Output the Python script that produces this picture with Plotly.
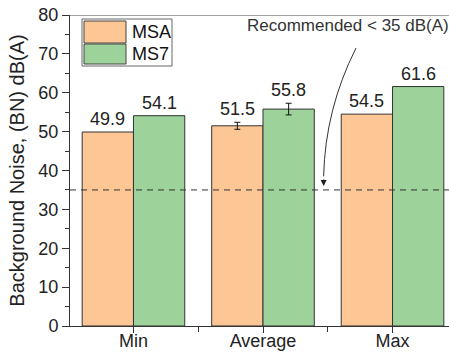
import plotly.graph_objects as go

# Background noise levels per statistic, two measurement series
categories = ["Min", "Average", "Max"]
msa_values = [49.9, 51.5, 54.5]
ms7_values = [54.1, 55.8, 61.6]
msa_errors = [None, 0.9, None]
ms7_errors = [None, 1.5, None]
series_names = ["MSA", "MS7"]
threshold = 35
y_ticks = [0, 10, 20, 30, 40, 50, 60, 70, 80]

ORANGE = "#FCC795"
GREEN = "#9DD29A"
FONT = "Liberation Sans, Arial, sans-serif"
TXT = "#222222"

W, H = 449, 353
L, R, T, B = 70, 0, 15, 27
BAR_W = 0.396

x_pos = list(range(len(categories)))

fig = go.Figure()
for name, vals, col in [
    (series_names[0], msa_values, ORANGE),
    (series_names[1], ms7_values, GREEN),
]:
    fig.add_trace(go.Bar(
        x=x_pos, y=vals, name=name, width=BAR_W,
        marker=dict(color=col, line=dict(color="#333333", width=1)),
        showlegend=False,
    ))

# error bars only where a spread was measured, plus value labels
for vals, errs, off in [(msa_values, msa_errors, -BAR_W / 2),
                        (ms7_values, ms7_errors, BAR_W / 2)]:
    ex = [i + off for i, e in enumerate(errs) if e]
    ey = [v for v, e in zip(vals, errs) if e]
    ee = [e for e in errs if e]
    fig.add_trace(go.Scatter(
        x=ex, y=ey, mode="markers", marker=dict(size=0, opacity=0),
        error_y=dict(type="data", array=ee, visible=True,
                     color="#111111", thickness=1, width=3),
        showlegend=False, hoverinfo="skip",
    ))
    for i, (v, e) in enumerate(zip(vals, errs)):
        fig.add_annotation(
            x=i + off, y=v + (e or 0), text=f"{v:.1f}", showarrow=False,
            yanchor="bottom", yshift=1,
            font=dict(family=FONT, size=18, color=TXT),
        )

# recommended limit
fig.add_shape(type="line", xref="paper", x0=0, x1=1, yref="y",
              y0=threshold, y1=threshold,
              line=dict(color="#333333", width=1, dash="6px,5px"))

# top frame line
fig.add_shape(type="line", xref="paper", x0=0, x1=1, yref="y",
              y0=y_ticks[-1], y1=y_ticks[-1],
              line=dict(color="#444444", width=1))

# curved pointer from the note down to the limit line
fig.add_shape(type="path", xref="x", yref="y",
              path="M 1.718,71.5 Q 1.48,55.7 1.468,38.5",
              line=dict(color="#333333", width=1))
fig.add_annotation(x=1.468, y=threshold + 1, ax=0, ay=-8,
                   xref="x", yref="y", axref="pixel", ayref="pixel",
                   text="", showarrow=True, arrowhead=2, arrowsize=1,
                   arrowwidth=1.2, arrowcolor="#222222")
fig.add_annotation(x=1.653, y=77.2, xref="x", yref="y",
                   text=f"Recommended &lt; {threshold} dB(A)",
                   showarrow=False,
                   font=dict(family=FONT, size=17, color="#333333"))

# hand-drawn legend box
pw, ph = W - L - R, H - T - B


def px(x):
    return (x - L) / pw


def py(y):
    return (H - B - y) / ph


fig.add_shape(type="rect", xref="paper", yref="paper",
              x0=px(82), x1=px(172), y0=py(66), y1=py(19),
              line=dict(color="#666666", width=1), fillcolor="white")
for (y0, y1), col, name in [((21, 43), ORANGE, series_names[0]),
                            ((44, 64), GREEN, series_names[1])]:
    fig.add_shape(type="rect", xref="paper", yref="paper",
                  x0=px(84), x1=px(126), y0=py(y1), y1=py(y0),
                  line=dict(color="#444444", width=1), fillcolor=col)
    fig.add_annotation(xref="paper", yref="paper", x=px(130),
                       y=py((y0 + y1) / 2), text=name, showarrow=False,
                       xanchor="left", yanchor="middle",
                       font=dict(family=FONT, size=18, color="#111111"))

fig.update_layout(
    width=W, height=H,
    margin=dict(l=L, r=R, t=T, b=B, autoexpand=False),
    paper_bgcolor="white", plot_bgcolor="white",
    barmode="group", bargap=0.208, bargroupgap=0,
    font=dict(family=FONT, size=18, color=TXT),
)
fig.update_xaxes(
    range=[-0.49, 2.436], tickvals=x_pos, ticktext=categories,
    showline=True, linecolor="#333333", linewidth=1,
    ticks="outside", ticklen=6, tickcolor="#333333",
    minor=dict(tickvals=[0.5, 1.5], ticks="outside", ticklen=5,
               tickcolor="#333333"),
    showgrid=False, zeroline=False, automargin=False,
    ticklabelstandoff=-8,
    tickfont=dict(family=FONT, size=18, color=TXT),
)
fig.update_yaxes(
    range=[0, 80], tickvals=y_ticks,
    showline=True, linecolor="#333333", linewidth=1,
    ticks="outside", ticklen=7, tickcolor="#333333",
    minor=dict(dtick=5, ticks="outside", ticklen=4, tickcolor="#333333"),
    showgrid=False, zeroline=False, automargin=False,
    tickfont=dict(family=FONT, size=18, color=TXT),
    title=dict(text="Background Noise, (BN) dB(A)", standoff=8,
               font=dict(family=FONT, size=20, color=TXT)),
)

fig.write_html("out.html")
